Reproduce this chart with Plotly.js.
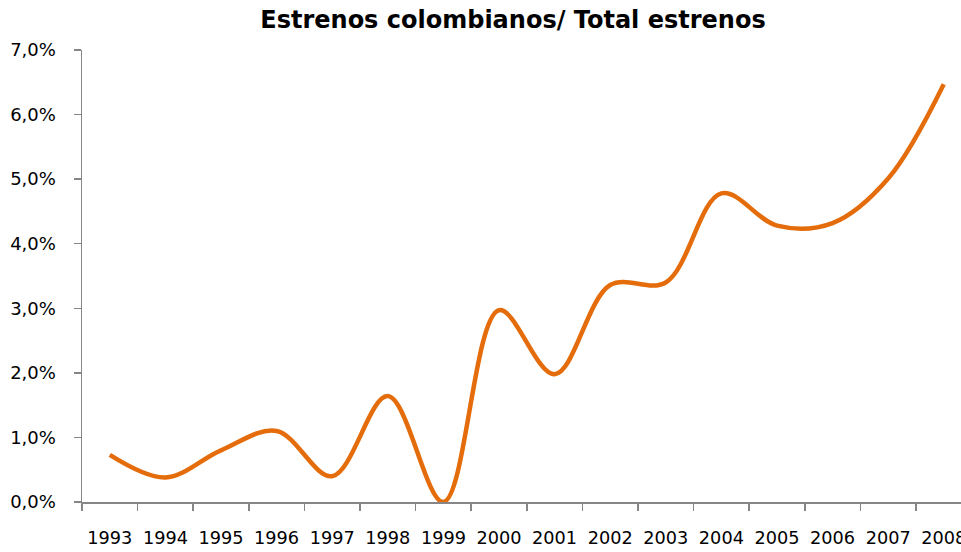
<!DOCTYPE html>
<html>
<head>
<meta charset="utf-8">
<script src="https://cdn.plot.ly/plotly-3.0.1.min.js"></script>
<style>html,body{margin:0;padding:0;background:#fff;}#chart{width:961px;height:552px;}</style>
</head>
<body>
<div id="chart"></div>
<script>
const years = ["1993","1994","1995","1996","1997","1998","1999","2000","2001","2002","2003","2004","2005","2006","2007","2008"];
const share = [0.0073,0.0038,0.0080,0.0110,0.0040,0.0164,0.0000,0.0297,0.0198,0.0336,0.0340,0.0478,0.0428,0.0432,0.0501,0.0647];
const yTicks = [0,0.01,0.02,0.03,0.04,0.05,0.06,0.07];

const trace = {
  x: years, y: share, type: 'scatter', mode: 'lines',
  line: {color: '#E46C0A', width: 4.5, shape: 'spline', smoothing: 1},
  hoverinfo: 'skip'
};
const layout = {
  width: 961, height: 552,
  margin: {l: 82, r: 0, t: 50, b: 50},
  paper_bgcolor: '#fff', plot_bgcolor: '#fff',
  separators: ',.',
  showlegend: false,
  title: {text: '<b>Estrenos colombianos/ Total estrenos</b>', x: 513/961, xanchor: 'center', y: 1 - 20/552, yanchor: 'middle',
          font: {family: 'DejaVu Sans, sans-serif', size: 24, color: '#000'}},
  xaxis: {
    type: 'category', range: [-0.5, 15.31], tickson: 'boundaries',
    showgrid: false, zeroline: false, showline: true, linecolor: '#868686', linewidth: 1.5,
    ticks: 'outside', ticklen: 7, tickcolor: '#868686', tickwidth: 1.5,
    ticklabelstandoff: 19,
    tickfont: {family: 'DejaVu Sans, sans-serif', size: 17.7, color: '#000'}
  },
  yaxis: {
    range: [0, 0.07], tickmode: 'array', tickvals: yTicks, tickformat: '.1%',
    showgrid: false, zeroline: false, showline: true, linecolor: '#868686', linewidth: 1.5,
    ticks: 'outside', ticklen: 7, tickcolor: '#868686', tickwidth: 1.5,
    ticklabelstandoff: 14,
    tickfont: {family: 'DejaVu Sans, sans-serif', size: 18, color: '#000'}
  }
};
Plotly.newPlot('chart', [trace], layout, {displayModeBar: false, staticPlot: true});
</script>
</body>
</html>
